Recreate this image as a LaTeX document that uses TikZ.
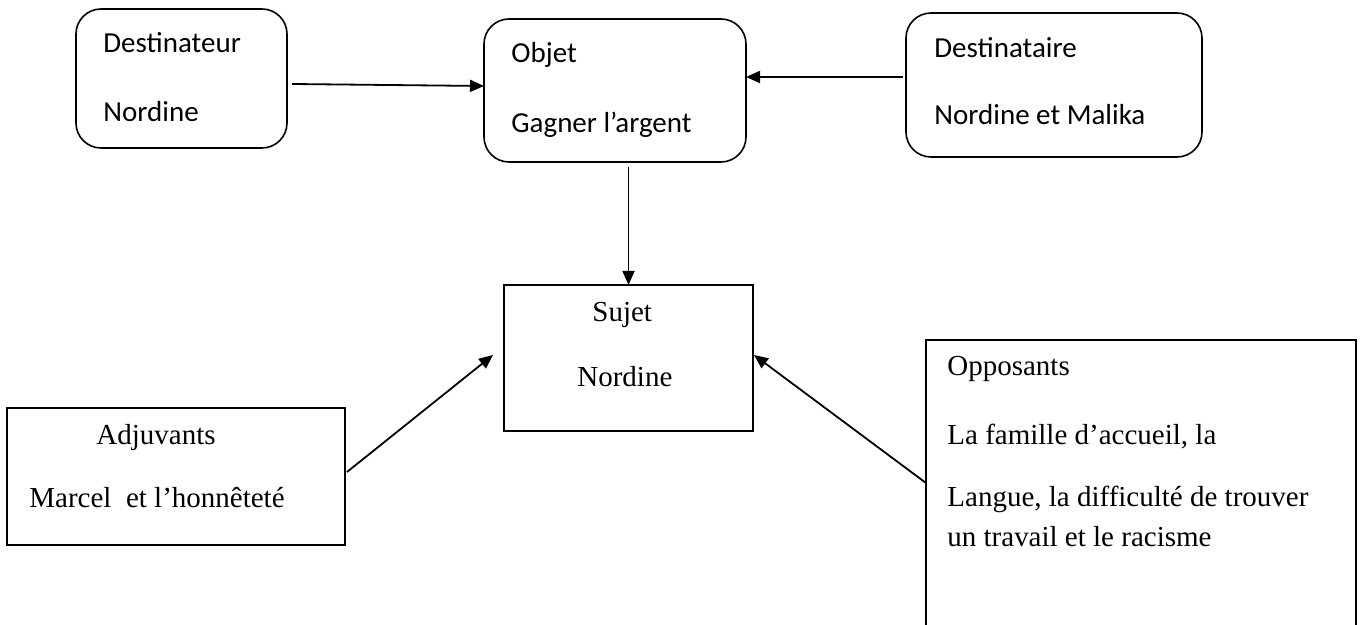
\documentclass[tikz,border=0pt]{standalone}
\usepackage{fontspec}
\setmainfont{Liberation Serif}
\newfontfamily\calib{Carlito}
\usetikzlibrary{arrows.meta}
\tikzset{
  rbox/.style={draw, line width=0.8pt, rounded corners=12.5pt, inner sep=0pt, outer sep=0pt},
  sbox/.style={draw, line width=0.9pt, inner sep=0pt, outer sep=0pt},
  ctext/.style={anchor=base west, inner sep=0pt, font=\calib\fontsize{14.5pt}{17pt}\selectfont},
  ttext/.style={anchor=base west, inner sep=0pt, font=\fontsize{14.5pt}{17pt}\selectfont},
  arr/.style={line width=0.9pt, -{Triangle[length=7pt,width=6pt]}}
}
\begin{document}
\begin{tikzpicture}[x=0.5pt,y=-0.5pt]
\clip (0,0) rectangle (1362,625);
\fill[white] (0,0) rectangle (1362,625);
% boxes
\node[rbox, minimum width=105.5pt, minimum height=69.5pt] (destr) at (181.5,78.5) {};
\node[rbox, minimum width=131pt, minimum height=71.5pt] (objet) at (615,90.5) {};
\node[rbox, minimum width=148pt, minimum height=72pt] (dtaire) at (1054,85) {};
\node[sbox, minimum width=124.5pt, minimum height=73pt] (sujet) at (628.5,358) {};
\node[sbox, minimum width=169pt, minimum height=68.5pt] (adj) at (176,476.5) {};
\node[sbox, minimum width=215pt, minimum height=150pt] (opp) at (1141,490) {};
% texts
\node[ctext] (t1) at (103,53) {Destinateur};
\node[ctext] (t2) at (103,122) {Nordine};
\node[ctext] (t3) at (511,63) {Objet};
\node[ctext] (t4) at (511,133) {Gagner l’argent};
\node[ctext] (t5) at (934,58) {Destinataire};
\node[ctext] (t6) at (934,125) {Nordine et Malika};
\node[ttext] (t7) at (592,322) {Sujet};
\node[ttext] (t8) at (577,387) {Nordine};
\node[ttext] (t9) at (96,445) {Adjuvants};
\node[ttext] (t10) at (29,508) {Marcel\ \ et l’honnêteté};
\node[ttext] (t11) at (947,376) {Opposants};
\node[ttext] (t12) at (947,445) {La famille d’accueil, la};
\node[ttext] (t13) at (947,507) {Langue, la difficulté de trouver};
\node[ttext] (t14) at (947,547) {un travail et le racisme};
% arrows
\draw[arr] ([shift={(5,5.5)}]destr.east) -- ([shift={(0,-4.5)}]objet.west);
\draw[arr] ([shift={(-3,-8)}]dtaire.west) -- ([shift={(0,-13.5)}]objet.east);
\draw[arr] ([shift={(13.5,5)}]objet.south) -- (sujet.north);
\draw[arr] ([shift={(2,-4.5)}]adj.east) -- ([shift={(-11,-3)}]sujet.west);
\draw[arr] ([shift={(0,-7)}]opp.west) -- ([shift={(1,-3)}]sujet.east);
\end{tikzpicture}
\end{document}
